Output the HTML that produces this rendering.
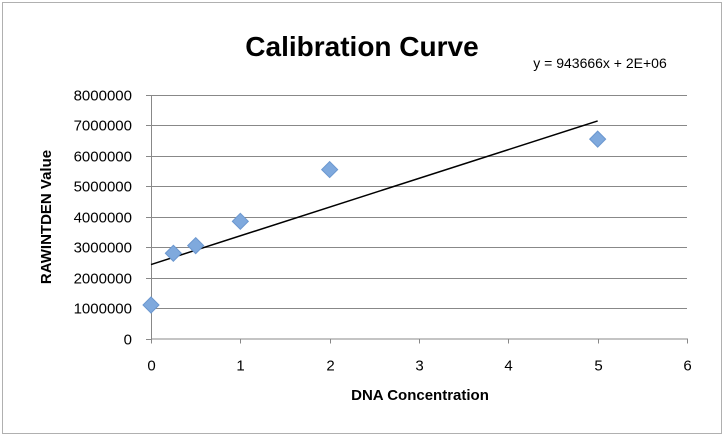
<!DOCTYPE html>
<html><head><meta charset="utf-8"><style>
html,body{margin:0;padding:0;background:#fff;}
svg{display:block;font-family:"Liberation Sans",sans-serif;}
</style></head><body>
<svg id="chart" width="724" height="436">
<rect x="2.5" y="2.5" width="719" height="431" fill="#fff" stroke="#b0b0b0"/>
<text x="362" y="56" text-anchor="middle" font-size="28" font-weight="bold" fill="#000">Calibration Curve</text>
<text x="600" y="68" text-anchor="middle" font-size="14" fill="#000">y = 943666x + 2E+06</text>
<text x="420" y="400" text-anchor="middle" font-size="15" font-weight="bold" fill="#000">DNA Concentration</text>
<text transform="translate(51,217) rotate(-90)" text-anchor="middle" font-size="15" font-weight="bold" fill="#000">RAWINTDEN Value</text>
<g id="grid"></g><g id="axes"></g><g id="marks"></g>
</svg>
<script>
const xTicks=[0,1,2,3,4,5,6];
const yTicks=[0,1000000,2000000,3000000,4000000,5000000,6000000,7000000,8000000];
const xValues=[0,0.25,0.5,1,2,5];
const yValues=[1100000,2800000,3050000,3850000,5550000,6550000];
const slope=943666;
const intercept=2430000;
const NS="http://www.w3.org/2000/svg";
const X0=151,X1=687,Y0=338.5,Y1=95;
function sx(v){return X0+(v-0)/(6-0)*(X1-X0);}
function sy(v){return Y0-(v-0)/(8000000-0)*(Y0-Y1);}
function mk(tag,attrs,parent){const e=document.createElementNS(NS,tag);for(const k in attrs)e.setAttribute(k,attrs[k]);parent.appendChild(e);return e;}
const grid=document.getElementById('grid'),axes=document.getElementById('axes'),marks=document.getElementById('marks');
yTicks.forEach(t=>{const y=Math.round(sy(t))+0.5;
 if(t>0){const g=mk('line',{x1:X0,x2:X1,y1:y,y2:y,stroke:'#888','stroke-width':1},grid);
 
 }
 const tk=mk('line',{x1:X0-5,x2:X0,y1:y,y2:y,stroke:'#888'},axes);
 
 
 const tx=mk('text',{x:X0-19,y:y+5,'text-anchor':'end','font-size':15,fill:'#000'},axes);tx.textContent=t;
 
 
});
xTicks.forEach(t=>{const x=Math.round(sx(t))+0.5;
 const tk=mk('line',{x1:x,x2:x,y1:Y0,y2:Y0+5,stroke:'#888'},axes);
 
 
 const tx=mk('text',{x:x,y:Y0+32,'text-anchor':'middle','font-size':15,fill:'#000'},axes);tx.textContent=t;
 
 
});
const ya=mk('line',{x1:X0+0.5,x2:X0+0.5,y1:Y1,y2:Y0,stroke:'#888'},axes);


const xa=mk('line',{x1:X0,x2:X1,y1:Y0+0.5,y2:Y0+0.5,stroke:'#888'},axes);


const tl=mk('line',{x1:sx(0),y1:sy(intercept),x2:sx(5),y2:sy(slope*5+intercept),stroke:'#000','stroke-width':1.5},marks);


xValues.forEach((v,i)=>{const cx=sx(v),cy=sy(yValues[i]),r=8;
 const p=mk('polygon',{points:`${cx},${cy-r} ${cx+r},${cy} ${cx},${cy+r} ${cx-r},${cy}`,fill:'#7fa9dd',stroke:'#6b97cf','stroke-width':1},marks);
 
 
});
</script>
</body></html>
